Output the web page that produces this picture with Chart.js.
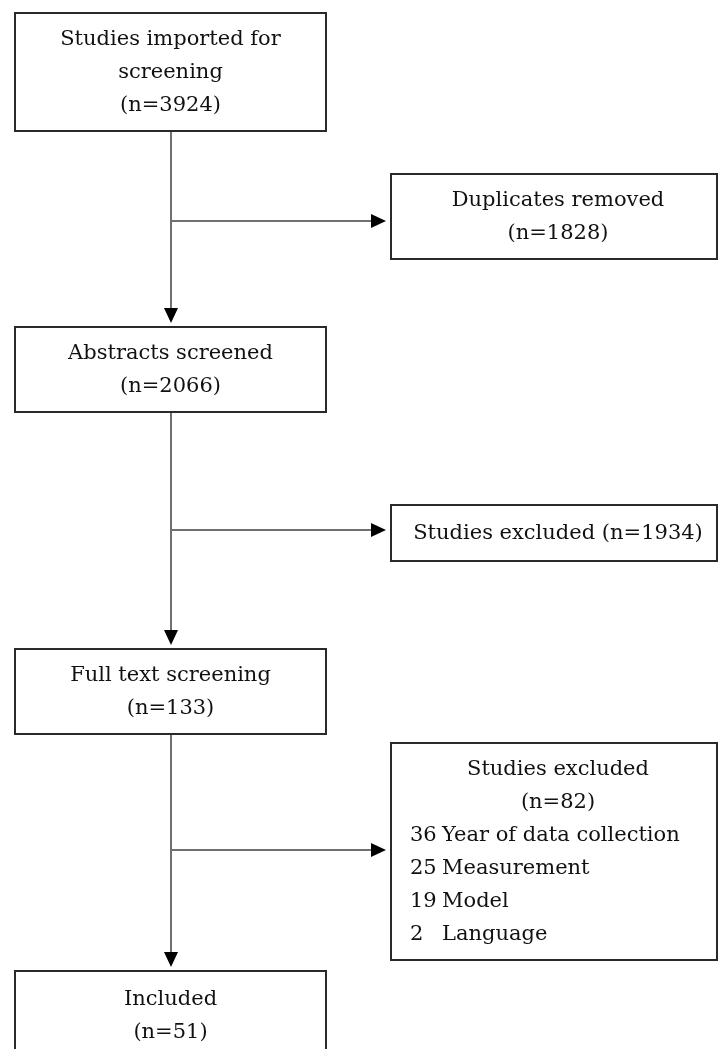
<!DOCTYPE html>
<html>
<head>
<meta charset="utf-8">
<script src="https://cdn.jsdelivr.net/npm/chart.js@4/dist/chart.umd.min.js"></script>
<style>
  html, body { margin: 0; padding: 0; background: #fff; }
  #wrap { width: 719px; height: 1049px; }
</style>
</head>
<body>
<div id="wrap"><canvas id="flow" width="719" height="1049"></canvas></div>
<script>
// Flow stages (main column) and their counts
const stageLabels = ['Studies imported for screening', 'Abstracts screened', 'Full text screening', 'Included'];
const stageCounts = [3924, 2066, 133, 51];

// Side boxes: removed / excluded at each step
const exclusionLabels = ['Duplicates removed', 'Studies excluded', 'Studies excluded'];
const exclusionCounts = [1828, 1934, 82];

// Reasons for exclusion at full text stage
const reasonLabels = ['Year of data collection', 'Measurement', 'Model', 'Language'];
const reasonCounts = [36, 25, 19, 2];

// Layout in chart units (axes run 0..719 and 0..1049, y downwards)
const mainBoxes = [
    { x0: 15, x1: 326, y0: 13, y1: 131, lines: ['Studies imported for', 'screening', `(n=${stageCounts[0]})`] },
    { x0: 15, x1: 326, y0: 327, y1: 412, lines: [stageLabels[1], `(n=${stageCounts[1]})`] },
    { x0: 15, x1: 326, y0: 649, y1: 734, lines: [stageLabels[2], `(n=${stageCounts[2]})`] },
    { x0: 15, x1: 326, y0: 971, y1: 1065, lines: [stageLabels[3], `(n=${stageCounts[3]})`], textY: 1015 }
];
const sideBoxes = [
    { x0: 391, x1: 717, y0: 174, y1: 259, branchY: 221, lines: [exclusionLabels[0], `(n=${exclusionCounts[0]})`] },
    { x0: 391, x1: 717, y0: 505, y1: 561, branchY: 530, lines: [`${exclusionLabels[1]} (n=${exclusionCounts[1]})`] },
    { x0: 391, x1: 717, y0: 743, y1: 960, branchY: 850, lines: [exclusionLabels[2], `(n=${exclusionCounts[2]})`], reasons: true }
];
const spineX = 171;
const lineH = 33;
const font = '21px "DejaVu Serif"';

const flowPlugin = {
    id: 'flowDiagram',
    afterDraw(chart) {
        const ctx = chart.ctx;
        const sx = chart.scales.x, sy = chart.scales.y;
        const px = v => sx.getPixelForValue(v);
        const py = v => sy.getPixelForValue(v);

        const arrowDown = (x, yTip) => {
            ctx.fillStyle = '#000';
            ctx.beginPath();
            ctx.moveTo(px(x) - 7, py(yTip) - 15);
            ctx.lineTo(px(x) + 7, py(yTip) - 15);
            ctx.lineTo(px(x), py(yTip));
            ctx.closePath();
            ctx.fill();
        };
        const arrowRight = (xTip, y) => {
            ctx.fillStyle = '#000';
            ctx.beginPath();
            ctx.moveTo(px(xTip) - 15, py(y) - 7);
            ctx.lineTo(px(xTip) - 15, py(y) + 7);
            ctx.lineTo(px(xTip), py(y));
            ctx.closePath();
            ctx.fill();
        };
        const box = b => {
            ctx.strokeStyle = '#2a2a2a';
            ctx.lineWidth = 2;
            ctx.strokeRect(px(b.x0), py(b.y0), px(b.x1) - px(b.x0), py(b.y1) - py(b.y0));
        };

        ctx.save();

        // vertical connectors between main boxes
        ctx.strokeStyle = '#707070';
        ctx.lineWidth = 2;
        for (let i = 0; i < mainBoxes.length - 1; i++) {
            const a = mainBoxes[i], b = mainBoxes[i + 1];
            ctx.beginPath();
            ctx.moveTo(px(spineX), py(a.y1));
            ctx.lineTo(px(spineX), py(b.y0 - 18));
            ctx.stroke();
            arrowDown(spineX, b.y0 - 4);
        }
        // horizontal branches to side boxes
        sideBoxes.forEach(s => {
            ctx.strokeStyle = '#707070';
            ctx.lineWidth = 2;
            ctx.beginPath();
            ctx.moveTo(px(spineX), py(s.branchY));
            ctx.lineTo(px(s.x0 - 18), py(s.branchY));
            ctx.stroke();
            arrowRight(s.x0 - 5, s.branchY);
        });

        // boxes
        mainBoxes.forEach(box);
        sideBoxes.forEach(box);

        // text
        ctx.fillStyle = '#111';
        ctx.font = font;
        ctx.textBaseline = 'middle';
        ctx.textAlign = 'center';
        mainBoxes.forEach(b => {
            const cy = b.textY !== undefined ? b.textY : (b.y0 + b.y1) / 2;
            const top = cy - (b.lines.length - 1) * lineH / 2 + 1;
            b.lines.forEach((t, i) => ctx.fillText(t, px((b.x0 + b.x1) / 2), py(top + i * lineH)));
        });
        sideBoxes.forEach(s => {
            const n = s.lines.length + (s.reasons ? reasonLabels.length : 0);
            const top = (s.y0 + s.y1) / 2 - (n - 1) * lineH / 2 + 1;
            ctx.textAlign = 'center';
            s.lines.forEach((t, i) => ctx.fillText(t, px((s.x0 + s.x1) / 2 + 4), py(top + i * lineH)));
            if (s.reasons) {
                ctx.textAlign = 'left';
                reasonLabels.forEach((r, j) => {
                    const y = py(top + (s.lines.length + j) * lineH);
                    ctx.fillText(String(reasonCounts[j]), px(s.x0 + 19), y);
                    ctx.fillText(r, px(s.x0 + 51), y);
                });
            }
        });
        ctx.restore();
    }
};

new Chart(document.getElementById('flow').getContext('2d'), {
    type: 'scatter',
    data: { datasets: [{ data: [], pointRadius: 0 }] },
    options: {
        responsive: false,
        animation: false,
        events: [],
        layout: { padding: 0 },
        plugins: { legend: { display: false }, tooltip: { enabled: false } },
        scales: {
            x: { type: 'linear', min: 0, max: 719, display: false },
            y: { type: 'linear', min: 0, max: 1049, reverse: true, display: false }
        }
    },
    plugins: [flowPlugin]
});
</script>
</body>
</html>
